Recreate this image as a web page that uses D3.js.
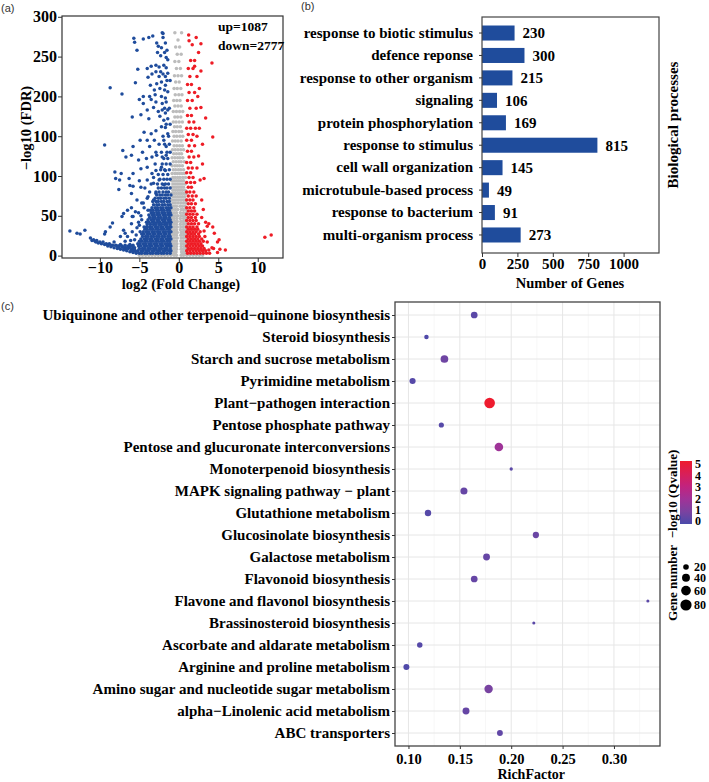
<!DOCTYPE html>
<html><head><meta charset="utf-8">
<script src="https://cdn.jsdelivr.net/npm/d3@7"></script>
<style>
body{margin:0;background:#fff}
svg text{font-family:"Liberation Serif","Times New Roman",serif;font-weight:bold;fill:#000}
svg text.panel{font-family:"Liberation Sans",Arial,sans-serif;font-weight:normal;fill:#333}
</style>
</head><body>
<svg id="fig" width="709" height="782"></svg>
<script>
// ---------------- (a) volcano data ----------------
const fcTicks = [-10, -5, 0, 5, 10];
const fdrTicks = [0, 50, 100, 150, 200, 250, 300];
const fdrTickLabels = ["0", "50", "100", "100", "200", "250", "300"];
const upLabel = "up=1087";
const downLabel = "down=2777";

// not significant genes: rows of [ -log10 FDR, [log2FC ...] ]
const nsRows = [
 [0.5,[-5.0,-4.6,-4.2,-3.8,-3.4,-3.0,-2.6,-2.2,-1.8,-1.4,-1.0,-0.6,-0.3,0.3,0.6,1.0,1.4,1.8,2.2,2.6,3.0]],
 [2,[-4.8,-4.4,-4.0,-3.6,-3.2,-2.8,-2.4,-2.0,-1.6,-1.2,-0.8,-0.45,0.45,0.8,1.2,1.6,2.0,2.4]],
 [4.5,[-0.95,-0.6,-0.35,0.35,0.6,0.95]],
 [8,[-0.85,-0.55,-0.3,0.3,0.55,0.85]],
 [11.5,[-0.95,-0.6,-0.3,0.3,0.65,0.95]],
 [15,[-0.8,-0.5,-0.25,0.3,0.55,0.85]],
 [18.5,[-0.95,-0.65,-0.3,0.25,0.6,0.95]],
 [22,[-0.8,-0.5,-0.2,0.3,0.55,0.85]],
 [25.5,[-0.95,-0.6,-0.3,0.25,0.6,0.95]],
 [29,[-0.8,-0.5,-0.2,0.3,0.55,0.85]],
 [32.5,[-0.95,-0.6,-0.3,0.2,0.6,0.9]],
 [36,[-0.8,-0.5,-0.2,0.25,0.5,0.85]],
 [39.5,[-0.95,-0.6,-0.3,0.2,0.6,0.95]],
 [43,[-0.8,-0.5,-0.2,0.25,0.55,0.85]],
 [46.5,[-0.9,-0.6,-0.25,0.2,0.6,0.9]],
 [50,[-0.75,-0.45,-0.15,0.25,0.5,0.8]],
 [54,[-0.9,-0.6,-0.3,0.2,0.6,0.95]],
 [58,[-0.8,-0.45,-0.15,0.3,0.55,0.85]],
 [62,[-0.9,-0.6,-0.3,0.15,0.45,0.8]],
 [66,[-0.75,-0.45,-0.1,0.25,0.6,0.9]],
 [70,[-0.9,-0.6,-0.3,0,0.3,0.6,0.9]],
 [74,[-0.75,-0.45,-0.15,0.15,0.45,0.75]],
 [78,[-0.9,-0.6,-0.3,0,0.3,0.6,0.9]],
 [82,[-0.75,-0.45,-0.15,0.15,0.45,0.8]],
 [86,[-0.9,-0.6,-0.3,0,0.3,0.6]],
 [90,[-0.75,-0.45,-0.15,0.15,0.45,0.8]],
 [94,[-0.9,-0.6,-0.3,0,0.3,0.6]],
 [98,[-0.75,-0.45,-0.15,0.15,0.5,0.85]],
 [103,[-0.85,-0.5,-0.2,0.1,0.4,0.7]],
 [108,[-0.7,-0.4,-0.05,0.25,0.6]],
 [113,[-0.85,-0.5,-0.2,0.1,0.45]],
 [118,[-0.7,-0.35,0,0.3,0.7]],
 [123,[-0.85,-0.5,-0.15,0.15,0.5]],
 [128,[-0.65,-0.3,0.05,0.35]],
 [133,[-0.8,-0.45,-0.1,0.25,0.6]],
 [138,[-0.6,-0.25,0.1,0.45]],
 [144,[-0.8,-0.45,-0.1,0.3]],
 [150,[-0.6,-0.25,0.15,0.5]],
 [156,[-0.75,-0.4,0,0.35]],
 [162,[-0.55,-0.2,0.2]],
 [168,[-0.7,-0.35,0.05,0.45]],
 [174,[-0.5,-0.15,0.25]],
 [181,[-0.7,-0.3,0.1,0.5]],
 [188,[-0.5,-0.1,0.3]],
 [195,[-0.65,-0.25,0.15]],
 [202,[-0.45,0,0.4]],
 [210,[-0.6,-0.2,0.25]],
 [218,[-0.4,0.05]],
 [226,[-0.55,-0.1,0.35]],
 [235,[-0.3,0.2]],
 [244,[-0.5,0]],
 [253,[-0.2,0.3]],
 [262,[-0.4,0.1]],
 [271,[-0.1]],
 [280,[-0.5,0.35]]
];

// down-regulated genes, dense part
const downRows = [
 [3,[-5.4,-5.0,-4.7,-4.3,-4.0,-3.6,-3.3,-2.9,-2.6,-2.2,-1.9,-1.5,-1.1]],
 [6,[-5.6,-5.2,-4.8,-4.5,-4.1,-3.8,-3.4,-3.1,-2.7,-2.4,-2.0,-1.7,-1.3,-1.0]],
 [9,[-5.0,-4.6,-4.3,-3.9,-3.6,-3.2,-2.9,-2.5,-2.2,-1.8,-1.5,-1.1]],
 [12,[-5.1,-4.8,-4.4,-4.1,-3.7,-3.4,-3.0,-2.7,-2.3,-2.0,-1.6,-1.3,-1.0]],
 [15,[-4.9,-4.5,-4.2,-3.8,-3.5,-3.1,-2.8,-2.4,-2.1,-1.7,-1.4,-1.1]],
 [18,[-5.0,-4.7,-4.3,-4.0,-3.6,-3.3,-2.9,-2.6,-2.2,-1.9,-1.5,-1.2]],
 [21,[-4.8,-4.4,-4.1,-3.7,-3.4,-3.0,-2.7,-2.3,-2.0,-1.6,-1.3,-1.0]],
 [24,[-4.6,-4.2,-3.9,-3.5,-3.2,-2.8,-2.5,-2.1,-1.8,-1.4,-1.1]],
 [27,[-4.7,-4.4,-4.0,-3.7,-3.3,-3.0,-2.6,-2.3,-1.9,-1.6,-1.2]],
 [30,[-4.5,-4.1,-3.8,-3.4,-3.1,-2.7,-2.4,-2.0,-1.7,-1.3,-1.0]],
 [33,[-4.3,-4.0,-3.6,-3.3,-2.9,-2.6,-2.2,-1.9,-1.5,-1.2]],
 [36,[-4.4,-4.1,-3.7,-3.4,-3.0,-2.7,-2.3,-2.0,-1.6,-1.3,-1.0]],
 [39,[-4.0,-3.6,-3.2,-2.9,-2.5,-2.2,-1.8,-1.5,-1.1]],
 [42,[-4.1,-3.8,-3.4,-3.1,-2.7,-2.4,-2.0,-1.7,-1.3,-1.0]],
 [45,[-3.9,-3.5,-3.2,-2.8,-2.5,-2.1,-1.8,-1.4,-1.1]],
 [48,[-3.7,-3.3,-3.0,-2.6,-2.3,-1.9,-1.6,-1.2]],
 [51,[-3.8,-3.4,-3.1,-2.7,-2.4,-2.0,-1.7,-1.3,-1.0]],
 [54,[-3.5,-3.2,-2.8,-2.5,-2.1,-1.8,-1.4,-1.1]],
 [57,[-3.6,-3.3,-2.9,-2.6,-2.2,-1.9,-1.5,-1.2]],
 [60,[-3.4,-3.0,-2.7,-2.3,-2.0,-1.6,-1.3,-1.0]],
 [64,[-3.2,-2.8,-2.5,-2.1,-1.8,-1.4,-1.1]],
 [68,[-3.3,-2.9,-2.6,-2.2,-1.9,-1.5,-1.2]],
 [72,[-3.0,-2.6,-2.3,-1.9,-1.6,-1.2]],
 [76,[-2.8,-2.4,-2.1,-1.7,-1.4,-1.0]],
 [80,[-2.9,-2.5,-2.0,-1.6,-1.3]],
 [85,[-2.6,-2.2,-1.8,-1.5,-1.1]],
 [90,[-2.7,-2.1,-1.7,-1.3]],
 [96,[-2.4,-1.9,-1.5,-1.1]],
 [102,[-2.6,-2.0,-1.4]],
 [108,[-2.3,-1.8,-1.2]],
 [115,[-2.1,-1.6,-1.1]],
 [122,[-1.9,-1.4]],
 [130,[-2.2,-1.5,-1.1]],
 [140,[-1.8,-1.2]],
 [150,[-2.0,-1.3]],
 [165,[-1.6,-1.1]],
 [185,[-1.8,-1.2]],
 [220,[-1.5,-1.1]]
];

// down-regulated genes, scattered part [log2FC, -log10 FDR]
const downScatter = [
 [-5.7,273],[-5.6,268],[-4.5,272],[-3.8,274],[-3.3,276],[-2.8,267],[-2.1,280],[-2.0,279],[-2.0,274],
 [-2.6,263],[-2.2,261],[-1.7,267],[-1.5,258],[-5.3,258],[-2.7,255],[-2.3,251],[-1.8,255],[-1.6,249],
 [-1.4,246],[-5.2,234],[-4.0,235],[-3.5,238],[-2.9,239],[-2.5,237],[-1.9,239],[-1.6,236],[-1.4,229],
 [-2.9,231],[-2.3,231],[-2.0,228],[-1.7,225],[-2.5,225],[-3.4,228],[-3.9,224],[-5.5,217],[-8.7,211],
 [-7.2,203],[-3.6,214],[-2.8,216],[-2.2,218],[-1.7,214],[-3.1,208],[-2.4,210],[-1.8,208],[-1.4,206],
 [-4.5,200],[-3.7,200],[-3.0,202],[-2.2,200],[-1.7,198],[-5.9,174],[-5.0,196],[-4.5,191],[-3.5,196],
 [-2.9,193],[-2.1,191],[-1.6,193],[-4.0,183],[-3.2,186],[-2.6,181],[-2.1,183],[-1.7,179],[-1.4,183],
 [-4.8,177],[-3.8,172],[-2.4,175],[-1.9,170],[-1.4,172],[-9.4,139],[-7.1,132],[-5.8,137],[-6.0,126],
 [-4.6,130],[-4.0,145],[-3.5,153],[-2.9,157],[-2.2,162],[-1.7,161],[-1.4,153],[-4.4,155],[-3.1,145],
 [-2.5,140],[-1.9,145],[-1.6,137],[-3.7,137],[-4.9,145],[-6.7,124],[-5.1,120],[-4.1,122],[-3.4,124],
 [-2.8,126],[-2.1,124],[-1.6,126],[-8.1,105],[-7.5,95],[-7.6,83],[-6.3,97],[-5.8,103],[-6.0,78],
 [-4.8,109],[-4.8,86],[-4.0,111],[-4.0,95],[-3.4,103],[-2.9,107],[-2.2,111],[-1.7,107],[-3.2,91],
 [-2.5,95],[-1.9,89],[-8.7,36],[-8.4,41],[-7.0,32],[-7.2,49],[-6.0,60],[-5.3,70],[-5.8,49],[-5.1,54],
 [-4.5,66],[-4.7,45],[-3.9,74],[-3.9,57],[-3.2,70],[-2.9,78],
 [-13.8,31],[-12.9,28],[-12.5,27],[-11.9,32],[-9.3,30],[-9.4,27],[-7.4,24],[-6.8,28],[-7.0,53],
 [-6.5,57],[-5.9,49],[-8.0,97],[-7.3,103],[-6.2,88],[-5.8,87],[-5.0,94],
 [-5.8,10],[-6.2,14],[-5.6,20],[-6.5,24],[-5.9,30],[-5.3,35],[-6.8,18],[-7.2,12],[-6.0,40],[-5.1,42],
 [-4.8,50],[-5.5,55],[-4.4,60],[-4.7,66],[-4.0,72],[-3.7,80],[-4.3,85],[-3.5,90],[-3.2,98],[-3.0,115],
 [-2.9,130],[-5.4,26],[-5.2,15],[-6.1,19],[-4.9,30],[-5.0,38],
 // low tail
 [-11.2,22],[-11.0,19],[-10.6,18],[-10.2,16],[-9.8,15],[-9.4,14],[-9.0,12],[-8.6,11],[-8.2,10],
 [-7.8,9],[-7.4,8],[-7.0,7],[-6.6,6],[-6.2,5],[-5.8,4],[-10.4,19],[-9.6,17],[-8.8,15],[-8.0,13],
 [-7.2,11],[-6.4,9],[-5.6,7],[-7.6,12],[-6.8,10],[-6.0,8],[-6.8,13],[-6.2,11],[-5.8,13],[-8.2,17],[-10.5,17],
 [-10.8,20],[-10.0,17],[-9.2,15],[-8.4,13],[-7.6,10],[-6.8,8],[-6.0,6],[-5.4,5],[-9.0,14],[-8.6,13],
 [-7.8,12],[-7.0,10],[-6.4,12],[-6.6,10],[-5.6,10],[-7.4,14],[-6.0,12]
];

// up-regulated genes, dense part
const upRows = [
 [3,[1.1,1.5,1.9,2.3,2.7,3.1,3.5,3.9]],
 [6,[1.0,1.4,1.8,2.2,2.6,3.0,3.4]],
 [9,[1.2,1.6,2.0,2.4,2.8,3.2]],
 [12,[1.0,1.4,1.8,2.2,2.6,3.0]],
 [15,[1.2,1.6,2.0,2.4,2.8]],
 [18,[1.0,1.4,1.8,2.2,2.6,3.1]],
 [21,[1.2,1.6,2.0,2.4,2.9]],
 [24,[1.0,1.4,1.8,2.2,2.6]],
 [27,[1.2,1.6,2.0,2.5]],
 [30,[1.0,1.4,1.8,2.2,2.7]],
 [33,[1.2,1.6,2.0,2.4]],
 [36,[1.0,1.4,1.8,2.3]],
 [40,[1.2,1.6,2.0,2.5]],
 [44,[1.0,1.4,1.8,2.2]],
 [48,[1.2,1.6,2.1]],
 [52,[1.0,1.4,1.8,2.3]],
 [56,[1.2,1.6,2.0]],
 [60,[1.0,1.4,1.9]],
 [65,[1.2,1.6,2.1]],
 [70,[1.0,1.4,1.8]],
 [75,[1.2,1.7,2.2]],
 [80,[1.0,1.4,1.9]],
 [86,[1.2,1.6]],
 [92,[1.0,1.5,2.0]],
 [98,[1.3,1.8]],
 [104,[1.0,1.5]],
 [110,[1.2,1.7,2.3]],
 [117,[1.0,1.5]],
 [124,[1.3,1.9]],
 [131,[1.1,1.6]],
 [138,[1.3,2.0]],
 [145,[1.0,1.6]],
 [152,[1.2,1.8]],
 [160,[1.0,1.5,2.1]],
 [168,[1.3,1.9]],
 [176,[1.1,1.6]],
 [185,[1.4,2.2]],
 [195,[1.1,1.7]],
 [205,[1.3,2.0]],
 [215,[1.1,1.6]],
 [225,[1.4,2.3]],
 [235,[1.2,1.8]],
 [245,[1.5,2.0]]
];

// up-regulated genes, scattered part [log2FC, -log10 FDR]
const upScatter = [
 [1.25,277],[2.2,274],[1.3,270],[1.7,265],[2.8,266],[4.2,242],[2.8,232],[2.0,238],[3.4,173],[4.3,149],
 [2.8,186],[3.0,140],[3.0,115],[3.2,97],[3.8,40],[4.3,36],[5.1,20],[5.2,8],[5.9,7],[3.6,17],[4.2,10],
 [3.4,42],[3.6,37],[3.2,31],[4.5,28],[4.9,17],[3.8,7],[4.4,9],[4.9,4],[2.5,255],[2.4,200],[2.6,160],
 [2.5,125],[2.7,95],[2.9,70],[3.1,58],[2.6,210],[2.3,150],[3.3,24],[2.9,48],
 [10.9,23],[11.7,26]
];

// ---------------- (b) GO bar data ----------------
const goTerms = ["response to biotic stimulus","defence reponse","response to other organism","signaling",
 "protein phosphorylation","response to stimulus","cell wall organization","microtubule-based process",
 "response to bacterium","multi-organism process"];
const goCounts = [230, 300, 215, 106, 169, 815, 145, 49, 91, 273];
const goTicks = [0, 250, 500, 750, 1000];

// ---------------- (c) KEGG bubble data ----------------
const pathways = ["Ubiquinone and other terpenoid\u2212quinone biosynthesis","Steroid biosynthesis",
 "Starch and sucrose metabolism","Pyrimidine metabolism","Plant\u2212pathogen interaction",
 "Pentose phosphate pathway","Pentose and glucuronate interconversions","Monoterpenoid biosynthesis",
 "MAPK signaling pathway \u2212 plant","Glutathione metabolism","Glucosinolate biosynthesis",
 "Galactose metabolism","Flavonoid biosynthesis","Flavone and flavonol biosynthesis",
 "Brassinosteroid biosynthesis","Ascorbate and aldarate metabolism","Arginine and proline metabolism",
 "Amino sugar and nucleotide sugar metabolism","alpha\u2212Linolenic acid metabolism","ABC transporters"];
const richFactor = [0.164,0.1175,0.135,0.104,0.179,0.132,0.188,0.200,0.154,0.119,
                    0.224,0.176,0.164,0.333,0.222,0.111,0.098,0.178,0.156,0.189];
const geneNumber = [29,13,38,24,72,17,47,7,32,26,25,30,29,6,6,19,23,45,31,22];
const qValue = [0.3,0.1,0.7,0.2,5.0,0.2,1.9,0.3,0.5,0.2,0.6,0.5,0.5,0.3,0.3,0.2,0.1,0.9,0.5,0.4];
const richTicks = [0.10, 0.15, 0.20, 0.25, 0.30];
const richMinor = [0.125, 0.175, 0.225, 0.275, 0.325];
const qTicks = [0, 1, 2, 3, 4, 5];
const sizeBreaks = [20, 40, 60, 80];

// ---------------- drawing ----------------
const svg = d3.select("#fig");
const BLUE = "#1f4c9c", RED = "#ee1c25", GREY = "#bcbcbc";

function expandRows(rows){ const out=[]; rows.forEach(([y,xs])=>xs.forEach(x=>out.push([x,y]))); return out; }
function styleAxis(a, size){
  a.select(".domain").remove(); a.selectAll("line").attr("stroke","#333");
  a.selectAll("text").attr("font-size",size).style("font-family","Liberation Serif").style("font-weight","bold").attr("fill","#000");
}

// ===== panel (a)
{
  const x = d3.scaleLinear().domain([-14.8, 13.2]).range([62, 283]);
  const y = d3.scaleLinear().domain([-3, 301]).range([258, 16]);
  const g = svg.append("g");
  const pts = [
    ...expandRows(nsRows).map(d=>[...d,GREY]),
    ...expandRows(downRows).map(d=>[...d,BLUE]),
    ...downScatter.map(d=>[...d,BLUE]),
    ...expandRows(upRows).map(d=>[...d,RED]),
    ...upScatter.map(d=>[...d,RED])
  ];
  g.selectAll("circle").data(pts).join("circle")
    .attr("cx",d=>x(d[0])).attr("cy",d=>y(d[1])).attr("r",1.75).attr("fill",d=>d[2]);
  g.append("rect").attr("x",62).attr("y",16).attr("width",221).attr("height",242)
    .attr("fill","none").attr("stroke","#333").attr("stroke-width",1.2);
  const ax = g.append("g").attr("transform","translate(0,258)")
    .call(d3.axisBottom(x).tickValues(fcTicks).tickSize(4).tickPadding(0).tickFormat(d=>d<0?"\u2212"+Math.abs(d):d));
  const ay = g.append("g").attr("transform","translate(62,0)")
    .call(d3.axisLeft(y).tickValues(fdrTicks).tickSize(4).tickPadding(1).tickFormat((d,i)=>fdrTickLabels[i]));
  styleAxis(ax,16); styleAxis(ay,16);
  g.append("text").attr("x",218).attr("y",31).attr("font-size",13.5).text(upLabel);
  g.append("text").attr("x",218).attr("y",50).attr("font-size",13.5).text(downLabel);
  g.append("text").attr("x",181).attr("y",289).attr("text-anchor","middle").attr("font-size",14.5).text("log2 (Fold Change)");
  g.append("text").attr("transform","translate(31,128) rotate(-90)").attr("text-anchor","middle").attr("font-size",14.5).text("\u2212log10 (FDR)");
  svg.append("text").attr("class","panel").attr("x",1).attr("y",12).attr("font-size",11).text("(a)");
}

// ===== panel (b)
{
  const x = d3.scaleLinear().domain([0, 1250]).range([482, 659]);
  const y = d3.scaleBand().domain(goTerms).range([21.8, 246.2]).paddingInner(0.33).paddingOuter(0.165);
  const g = svg.append("g");
  g.selectAll("rect.bar").data(goTerms).join("rect").attr("class","bar")
    .attr("x",x(0)).attr("y",d=>y(d)).attr("height",y.bandwidth())
    .attr("width",(d,i)=>x(goCounts[i])-x(0)).attr("fill","#1f4c9c");
  g.selectAll("text.val").data(goTerms).join("text").attr("class","val")
    .attr("x",(d,i)=>x(goCounts[i])+8).attr("y",d=>y(d)+y.bandwidth()/2).attr("dy","0.36em")
    .attr("font-size",15).text((d,i)=>goCounts[i]);
  g.append("rect").attr("x",482).attr("y",17).attr("width",177).attr("height",236)
    .attr("fill","none").attr("stroke","#444").attr("stroke-width",1.2);
  const ay = g.append("g").attr("transform","translate(482,0)").call(d3.axisLeft(y).tickSize(3).tickPadding(6));
  const ax = g.append("g").attr("transform","translate(0,253)").call(d3.axisBottom(x).tickValues(goTicks).tickSize(4).tickPadding(1).tickFormat(d3.format("d")));
  styleAxis(ay,15); styleAxis(ax,15);
  g.append("text").attr("x",570).attr("y",288).attr("text-anchor","middle").attr("font-size",14.5).text("Number of Genes");
  g.append("text").attr("transform","translate(678,125) rotate(-90)").attr("text-anchor","middle").attr("font-size",15).text("Biological processes");
  svg.append("text").attr("class","panel").attr("x",301).attr("y",10).attr("font-size",11).text("(b)");
}

// ===== panel (c)
{
  const L=395, R=660, T=302, B=746;
  const x = d3.scaleLinear().domain([0.0869, 0.3448]).range([L, R]);
  const y = d3.scalePoint().domain(pathways).range([315, 733]);
  const r = d3.scaleSqrt().domain([0, 80]).range([0, 5.6]);
  const col = d3.scaleLinear().domain([0, 2.5, 5]).range(["#4a4aaa","#b42592","#ee1b2e"]).interpolate(d3.interpolateLab);
  const g = svg.append("g");
  g.append("rect").attr("x",L).attr("y",T).attr("width",R-L).attr("height",B-T).attr("fill","#fff");
  g.selectAll("line.minor").data(richMinor).join("line").attr("class","minor")
    .attr("x1",d=>x(d)).attr("x2",d=>x(d)).attr("y1",T).attr("y2",B).attr("stroke","#f2f2f2").attr("stroke-width",0.6);
  g.selectAll("line.vmaj").data(richTicks).join("line").attr("class","vmaj")
    .attr("x1",d=>x(d)).attr("x2",d=>x(d)).attr("y1",T).attr("y2",B).attr("stroke","#e6e6e6").attr("stroke-width",1);
  g.selectAll("line.hmaj").data(pathways).join("line").attr("class","hmaj")
    .attr("x1",L).attr("x2",R).attr("y1",d=>y(d)).attr("y2",d=>y(d)).attr("stroke","#e6e6e6").attr("stroke-width",1);
  g.selectAll("circle").data(pathways).join("circle")
    .attr("cx",(d,i)=>x(richFactor[i])).attr("cy",d=>y(d)).attr("r",(d,i)=>r(geneNumber[i]))
    .attr("fill",(d,i)=>col(qValue[i]));
  g.append("rect").attr("x",L).attr("y",T).attr("width",R-L).attr("height",B-T)
    .attr("fill","none").attr("stroke","#444").attr("stroke-width",1.3);
  const ay = g.append("g").attr("transform",`translate(${L},0)`).call(d3.axisLeft(y).tickSize(3).tickPadding(2));
  const ax = g.append("g").attr("transform",`translate(0,${B})`).call(d3.axisBottom(x).tickValues(richTicks).tickSize(3).tickPadding(2).tickFormat(d3.format(".2f")));
  styleAxis(ay,15); styleAxis(ax,14.5);
  ax.selectAll("text").attr("dy","0.9em");
  g.append("text").attr("x",x(0.2)+20).attr("y",779).attr("text-anchor","middle").attr("font-size",14).text("RichFactor");
  svg.append("text").attr("class","panel").attr("x",1).attr("y",310).attr("font-size",11).text("(c)");

  // colour legend
  const defs = svg.append("defs");
  const grad = defs.append("linearGradient").attr("id","qgrad").attr("x1",0).attr("y1",1).attr("x2",0).attr("y2",0);
  qTicks.forEach(q=>grad.append("stop").attr("offset",q/5).attr("stop-color",col(q)));
  const qy = d3.scaleLinear().domain([0,5]).range([521,464]);
  g.append("rect").attr("x",680).attr("y",461).attr("width",12).attr("height",63).attr("fill","url(#qgrad)");
  g.selectAll("text.qt").data(qTicks).join("text").attr("class","qt")
    .attr("x",695).attr("y",d=>qy(d)).attr("dy","0.36em").attr("font-size",12).text(d=>d);
  g.append("text").attr("transform","translate(677,494) rotate(-90)").attr("text-anchor","middle").attr("font-size",13).text("\u2212log10 (Qvalue)");

  // size legend
  let cy = 567; const sy=[];
  sizeBreaks.forEach((s,i)=>{ if(i>0) cy += r(sizeBreaks[i-1]) + r(s) + 4; sy.push(cy); });
  g.selectAll("circle.leg").data(sizeBreaks).join("circle").attr("class","leg")
    .attr("cx",686).attr("cy",(d,i)=>sy[i]).attr("r",d=>r(d)).attr("fill","#000");
  g.selectAll("text.leg").data(sizeBreaks).join("text").attr("class","leg")
    .attr("x",694).attr("y",(d,i)=>sy[i]).attr("dy","0.36em").attr("font-size",12).text(d=>d);
  g.append("text").attr("transform","translate(677,583) rotate(-90)").attr("text-anchor","middle").attr("font-size",13).text("Gene number");
}
</script>
</body></html>
